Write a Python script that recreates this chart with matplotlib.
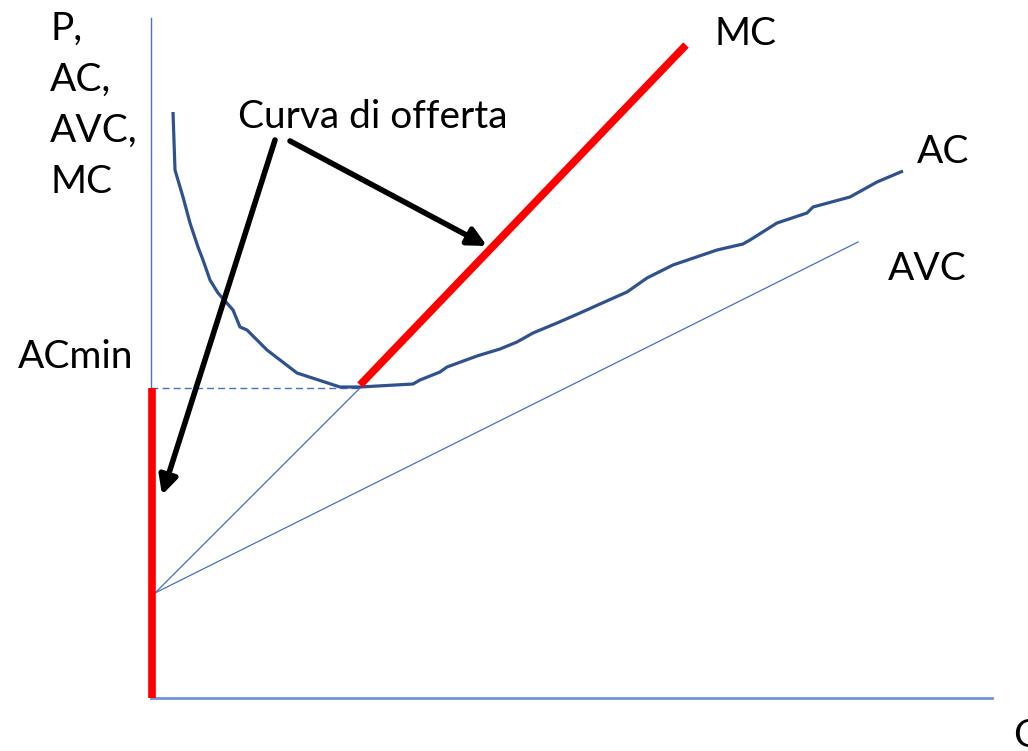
import numpy as np
import matplotlib.pyplot as plt

# Cost curves diagram (firm supply curve); units: Q along x, P along y
ac_q = [22, 24, 32, 39, 47, 52, 59, 67, 82, 89, 96, 116, 146, 189, 209, 262,
        269, 289, 296, 326, 349, 366, 382, 406, 429, 449, 476, 496, 522, 566,
        592, 599, 626, 656, 662, 699, 726, 752]
ac_p = [586, 528, 501, 475, 451, 438, 418, 405, 388, 371, 368, 348, 325, 311,
        311, 314, 318, 326, 331, 342, 349, 356, 365, 375, 385, 394, 406, 420,
        433, 448, 454, 458, 475, 485, 491, 501, 516, 527]

intercept = (4, 105)          # where MC and AVC start
ac_min = (209, 310)           # minimum of AC
avc_end = (707, 456)
mc_end = (535, 653)
q_axis_end = 841
p_axis_end = 680

# arrows from the "Curva di offerta" label
arrow_starts = [(124, 558), (139, 557)]
arrow_ends = [(11, 203), (336, 452)]

y_labels = ["P,", "AC,", "AVC,", "MC"]

FONT = "Lato"
FS = 28
dark_blue = "#2F528F"
blue = "#4472C4"
red = "#FF0000"

fig = plt.figure(figsize=(10.28, 7.51), dpi=100)
ax = fig.add_axes([0, 0, 1, 1])
ax.set_xlim(-151, 1028 - 151)
ax.set_ylim(698 - 751, 698)
ax.axis("off")

# axes of the diagram
ax.plot([0, 0], [0, p_axis_end], color=blue, lw=1.0)
ax.plot([0, q_axis_end], [0, 0], color="#7096D6", lw=2.0)

# dashed ACmin line
ax.plot([0, ac_min[0]], [ac_min[1], ac_min[1]], color=blue, lw=1.0,
        ls=(0, (5, 3)))

# thin MC line below shutdown point, and AVC
ax.plot([intercept[0], ac_min[0]], [intercept[1], ac_min[1]], color=blue, lw=0.9)
ax.plot([intercept[0], avc_end[0]], [intercept[1], avc_end[1]], color=blue, lw=0.9)

# AC curve
ax.plot(ac_q, ac_p, color=dark_blue, lw=2.3, solid_capstyle="butt")

# supply curve in red: vertical segment + MC above ACmin
ax.plot([1, 1], [0, ac_min[1]], color=red, lw=5.5, solid_capstyle="butt")
ax.plot([ac_min[0], mc_end[0]], [ac_min[1] + 3, mc_end[1]], color=red, lw=5.5,
        solid_capstyle="butt")

# arrows
for (x0, y0), (x1, y1) in zip(arrow_starts, arrow_ends):
    ax.annotate("", xy=(x1, y1), xytext=(x0, y0),
                arrowprops=dict(arrowstyle="-|>,head_length=1.1,head_width=0.55",
                                color="black", lw=4.0, shrinkA=0, shrinkB=0))

# labels
for i, lab in enumerate(y_labels):
    ax.text(-101, 658 - 51 * i, lab, fontsize=FS, family=FONT, va="baseline")
ax.text(-133, 330, "ACmin", fontsize=FS, family=FONT, va="baseline")
ax.text(87, 570, "Curva di offerta", fontsize=FS, family=FONT, va="baseline")
ax.text(564, 653, "MC", fontsize=FS, family=FONT, va="baseline")
ax.text(766, 535, "AC", fontsize=FS, family=FONT, va="baseline")
ax.text(737, 418, "AVC", fontsize=FS, family=FONT, va="baseline")
ax.text(862, -49, "Q", fontsize=FS, family=FONT, va="baseline")

fig.savefig("out.png", dpi=100)
